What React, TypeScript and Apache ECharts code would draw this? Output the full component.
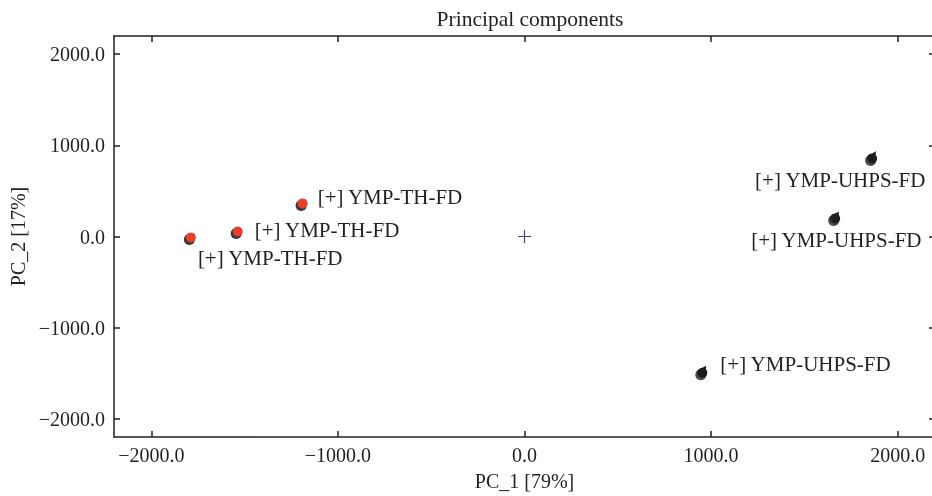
import React, { useEffect, useRef } from 'react';
import * as echarts from 'echarts';

// ---- data ----
const thX = [-1788, -1537, -1189];
const thY = [-10, 55, 363];
const uhpsX = [1863, 1665, 953];
const uhpsY = [857, 198, -1495];
const thLabels = ['[+] YMP-TH-FD', '[+] YMP-TH-FD', '[+] YMP-TH-FD'];
const uhpsLabels = ['[+] YMP-UHPS-FD', '[+] YMP-UHPS-FD', '[+] YMP-UHPS-FD'];
const centroidX = [0];
const centroidY = [0];
const tickValues = [-2000, -1000, 0, 1000, 2000];
const axisMin = -2200;
const axisMax = 2200;
const titleText = 'Principal components';
const xName = 'PC_1 [79%]';
const yName = 'PC_2 [17%]';

// ---- style ----
const FONT = '"Liberation Serif", "DejaVu Serif", serif';
const TXT = '#231f20';
const thLabelOffsets = [[7, 21], [17, -1], [15, -6]];
const uhpsLabelOffsets = [[-117, 22], [-84, 22], [18, -9]];

const fmt = (v: number) => (v < 0 ? '\u2212' : '') + Math.abs(v).toFixed(1);

function pts(xs: number[], ys: number[]) {
  return xs.map((x, i) => [x, ys[i]]);
}

function labelled(xs: number[], ys: number[], labels: string[], offs: number[][]) {
  return xs.map((x, i) => ({
    value: [x, ys[i]],
    label: {
      show: true,
      position: 'inside',
      align: 'left',
      verticalAlign: 'middle',
      offset: offs[i],
      formatter: labels[i],
      color: TXT,
      opacity: 1,
      fontSize: 21,
      fontFamily: FONT,
    },
  }));
}

export default function App() {
  const ref = useRef<HTMLDivElement>(null);
  useEffect(() => {
    document.body.style.margin = '0';
    const chart = echarts.init(ref.current!, null, { renderer: 'svg' });
    const axisLineStyle = { color: '#231f20', width: 1.5 };
    const mkX = (pos: 'bottom' | 'top', main: boolean) => ({
      type: 'value',
      position: pos,
      min: axisMin,
      max: axisMax,
      axisLine: { show: true, onZero: false, lineStyle: axisLineStyle },
      axisTick: { show: true, inside: true, length: 6, customValues: tickValues, lineStyle: axisLineStyle },
      axisLabel: main
        ? { show: true, customValues: tickValues, formatter: fmt, fontSize: 20, color: TXT, fontFamily: FONT, margin: 8 }
        : { show: false },
      splitLine: { show: false },
      name: main ? xName : '',
      nameLocation: 'middle',
      nameGap: 34,
      nameTextStyle: { fontSize: 20, color: TXT, fontFamily: FONT },
    });
    const mkY = (pos: 'left' | 'right', main: boolean) => ({
      type: 'value',
      position: pos,
      min: axisMin,
      max: axisMax,
      axisLine: { show: true, onZero: false, lineStyle: axisLineStyle },
      axisTick: { show: true, inside: true, length: 6, customValues: tickValues, lineStyle: axisLineStyle },
      axisLabel: main
        ? { show: true, customValues: tickValues, formatter: fmt, fontSize: 20, color: TXT, fontFamily: FONT, margin: 9 }
        : { show: false },
      splitLine: { show: false },
      name: main ? yName : '',
      nameLocation: 'middle',
      nameGap: 86,
      nameTextStyle: { fontSize: 20, color: TXT, fontFamily: FONT },
    });
    const solid = { opacity: 1 };
    chart.setOption({
      animation: false,
      title: {
        text: titleText,
        left: 525,
        textAlign: 'center',
        top: 3,
        textStyle: { fontSize: 21.5, fontWeight: 'normal', color: TXT, fontFamily: FONT },
      },
      grid: { left: 114, top: 36, width: 821, height: 401, containLabel: false, outerBoundsMode: 'none' },
      xAxis: [mkX('bottom', true), mkX('top', false)],
      yAxis: [mkY('left', true), mkY('right', false)],
      series: [
        {
          type: 'scatter',
          data: pts(thX, thY),
          symbol: 'circle',
          symbolSize: 11,
          symbolOffset: [-1.5, 2],
          itemStyle: { color: '#3b3838', ...solid },
          z: 2,
          silent: true,
        },
        {
          type: 'scatter',
          data: pts(uhpsX, uhpsY),
          symbol: 'circle',
          symbolSize: 11,
          symbolOffset: [-1.5, 2],
          itemStyle: { color: '#4a4a4a', ...solid },
          z: 2,
          silent: true,
        },
        {
          type: 'scatter',
          data: pts(uhpsX, uhpsY),
          symbol: 'triangle',
          symbolSize: 5,
          symbolOffset: [2.5, -5],
          symbolRotate: -35,
          itemStyle: { color: '#1d1d1d', ...solid },
          z: 3,
          silent: true,
        },
        {
          type: 'scatter',
          data: labelled(thX, thY, thLabels, thLabelOffsets),
          symbol: 'circle',
          symbolSize: 10,
          itemStyle: { color: '#e8402c', ...solid },
          z: 4,
        },
        {
          type: 'scatter',
          data: labelled(uhpsX, uhpsY, uhpsLabels, uhpsLabelOffsets),
          symbol: 'circle',
          symbolSize: 10,
          itemStyle: { color: '#1d1d1d', ...solid },
          z: 4,
        },
        {
          type: 'scatter',
          data: pts(centroidX, centroidY),
          symbol: 'path://M-1,-0.09H1V0.09H-1Z M-0.09,-1H0.09V1H-0.09Z',
          symbolSize: 13,
          itemStyle: { color: '#3f3a8a', ...solid },
          z: 4,
        },
      ],
    });
    return () => chart.dispose();
  }, []);
  return <div ref={ref} style={{ position: 'fixed', left: 0, top: 0, width: 932, height: 496 }} />;
}
